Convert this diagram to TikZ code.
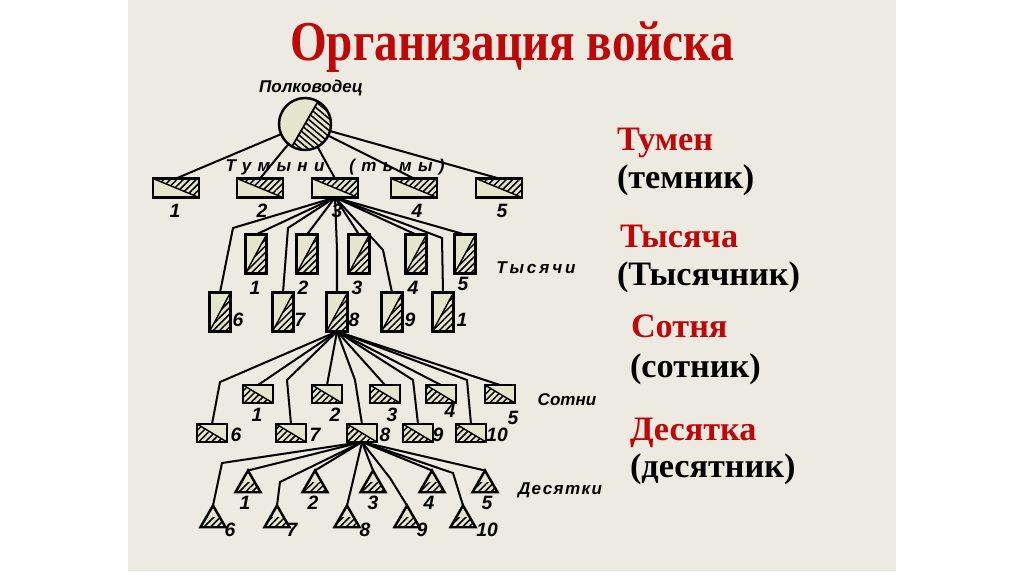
\documentclass[tikz,border=0pt]{standalone}
\usepackage{fontspec}
\setmainfont{Liberation Serif}
\newfontfamily\tagfont{Liberation Sans}
\usepackage{graphicx}
\usetikzlibrary{shapes.geometric,patterns.meta,calc}
\definecolor{paper}{RGB}{237,234,225}
\definecolor{cream}{RGB}{229,228,205}
\definecolor{headred}{RGB}{190,8,8}

\begin{document}
\begin{tikzpicture}[x=0.02cm,y=-0.02cm,every node/.style={inner sep=0pt,outer sep=0pt},
  link/.style={line width=1.15pt},
  hatch/.style={pattern={Lines[angle=45,distance=2.6pt,line width=0.85pt]}},
  unit/.style={draw,line width=1.4pt,fill=cream},
  tumenbox/.style={unit,rectangle,minimum width=0.92cm,minimum height=0.38cm,
    path picture={\fill[hatch] (path picture bounding box.north west) -| (path picture bounding box.south east) -- cycle;
      \draw[line width=0.8pt] (path picture bounding box.north west) -- (path picture bounding box.south east);}},
  thbox/.style={unit,rectangle,minimum width=0.42cm,minimum height=0.78cm,
    path picture={\fill[hatch] (path picture bounding box.north east) |- (path picture bounding box.south west) -- cycle;
      \draw[line width=0.8pt] (path picture bounding box.north east) -- (path picture bounding box.south west);}},
  sotbox/.style={unit,rectangle,minimum width=0.6cm,minimum height=0.36cm,
    path picture={\fill[hatch] (path picture bounding box.north west) |- (path picture bounding box.south east) -- cycle;
      \draw[line width=0.8pt] (path picture bounding box.north west) -- (path picture bounding box.south east);}},
  desbox/.style={unit,regular polygon,regular polygon sides=3,minimum size=0.58cm,
    path picture={\fill[hatch] (path picture bounding box.south west) rectangle ($(path picture bounding box.south east)!0.45!(path picture bounding box.north east)$);}},
  leaderbox/.style={unit,circle,minimum size=1.04cm,
    path picture={\fill[pattern={Lines[angle=-40,distance=2.6pt,line width=0.85pt]}] ($(path picture bounding box.center)+(60:1cm)$) -- ($(path picture bounding box.center)+(-30:1cm)$) -- ($(path picture bounding box.center)+(240:1cm)$) -- cycle;
      \draw[line width=1pt] ($(path picture bounding box.center)+(60:1cm)$) -- ($(path picture bounding box.center)+(240:1cm)$);}},
  num/.style={font=\tagfont\bfseries\itshape\fontsize{11}{11}\selectfont},
  tag/.style={font=\tagfont\bfseries\itshape\fontsize{9.7}{10}\selectfont\addfontfeature{LetterSpace=#1}},
  tag/.default=0,
  head/.style={anchor=base west,font=\fontsize{19.5}{23}\selectfont\bfseries}]
  %frame
  \fill[white] (0,0) rectangle (1024,576);
  \fill[paper] (128,0) rectangle (896,571);
  %title
  \node[anchor=base,text=headred,font=\fontsize{32}{36}\selectfont\bfseries] (title) at (512,60) {\scalebox{0.84}[1]{Организация войска}};
  %right
  \node[head,text=headred] (htumen) at (617,150) {Тумен};
  \node[head] (htemnik) at (617,188) {(темник)};
  \node[head,text=headred] (htys) at (620,247) {Тысяча};
  \node[head] (htysnik) at (617,285) {(Тысячник)};
  \node[head,text=headred] (hsot) at (631,337) {Сотня};
  \node[head] (hsotnik) at (630,377) {(сотник)};
  \node[head,text=headred] (hdes) at (630,440) {Десятка};
  \node[head] (hdesnik) at (630,477) {(десятник)};

  %leader
  \node[leaderbox] (lead) at (305,124) {};
  \node[tag] (leadname) at (311,88) {Полководец};
  %tumens
  \foreach \i/\x/\nx in {1/176/175,2/260/262,3/335/337,4/414/417,5/499/502}{
    \node[tumenbox] (t\i) at (\x,188) {};
    \node[num] (tn\i) at (\nx,211) {\i};
    \draw[link] (lead) -- (t\i.north);
  }
  \node[tag=37] (tumlab) at (275,167) {Тумыни};
  \node[tag=37] (tmalab) at (397,167) {(тьмы)};

  %thousands
  \foreach \i/\x/\nx/\ny in {1/256/255/288,2/307/303/288,3/359/357/288,4/416/413/288,5/465/463/284}{
    \node[thbox] (th\i) at (\x,254) {};
    \node[num] (thn\i) at (\nx,\ny) {\i};
    \draw[link] (t3.south) -- (th\i.north);
  }
  \foreach \i/\x/\nx/\txt in {6/220/238/6,7/283/300/7,8/337/354/8,9/392/410/9,10/443/462/1}{
    \node[thbox] (th\i) at (\x,312) {};
    \node[num] (thn\i) at (\nx,320) {\txt};
  }
  \foreach \i/\bx/\by in {6/233/228,7/288/228,8/337/250,9/383/250,10/442/238}{
    \coordinate (thb\i) at (\bx,\by);
    \draw[link] (t3.south) -- (thb\i) -- (th\i.north);
  }
  \node[tag=17] (thlab) at (536,268) {Тысячи};

  %hundreds
  \foreach \i/\x/\nx/\ny in {1/258/257/415,2/327/335/415,3/385/392/415,4/441/450/411,5/500/513/418}{
    \node[sotbox] (s\i) at (\x,394) {};
    \node[num] (sn\i) at (\nx,\ny) {\i};
    \draw[link] (th8.south) -- (s\i.north);
  }
  \foreach \i/\x/\nx in {6/212/236,7/291/315,8/362/385,9/418/438,10/471/497}{
    \node[sotbox] (s\i) at (\x,433) {};
    \node[num] (sn\i) at (\nx,435) {\i};
  }
  \foreach \i/\bx/\by in {6/220/382,7/287/380,8/355/380,9/413/380,10/467/380}{
    \coordinate (sb\i) at (\bx,\by);
    \draw[link] (th8.south) -- (sb\i) -- (s\i.north);
  }
  \node[tag] (slab) at (567,400) {Сотни};

  %tens
  \foreach \i/\x/\nx in {1/248/245,2/315/313,3/373/373,4/432/429,5/485/487}{
    \node[desbox] (d\i) at (\x,485) {};
    \node[num] (dn\i) at (\nx,503) {\i};
    \draw[link] (s8.south) -- (d\i.corner 1);
  }
  \foreach \i/\x/\nx in {6/213/230,7/277/292,8/347/365,9/407/422,10/463/487}{
    \node[desbox] (d\i) at (\x,520) {};
    \node[num] (dn\i) at (\nx,530) {\i};
  }
  \foreach \i/\bx/\by in {6/222/463,7/280/482,8/352/485,9/390/478,10/453/473}{
    \coordinate (db\i) at (\bx,\by);
    \draw[link] (s8.south) -- (db\i) -- (d\i.corner 1);
  }
  \node[tag=8] (dlab) at (560,490) {Десятки};
\end{tikzpicture}
\end{document}
